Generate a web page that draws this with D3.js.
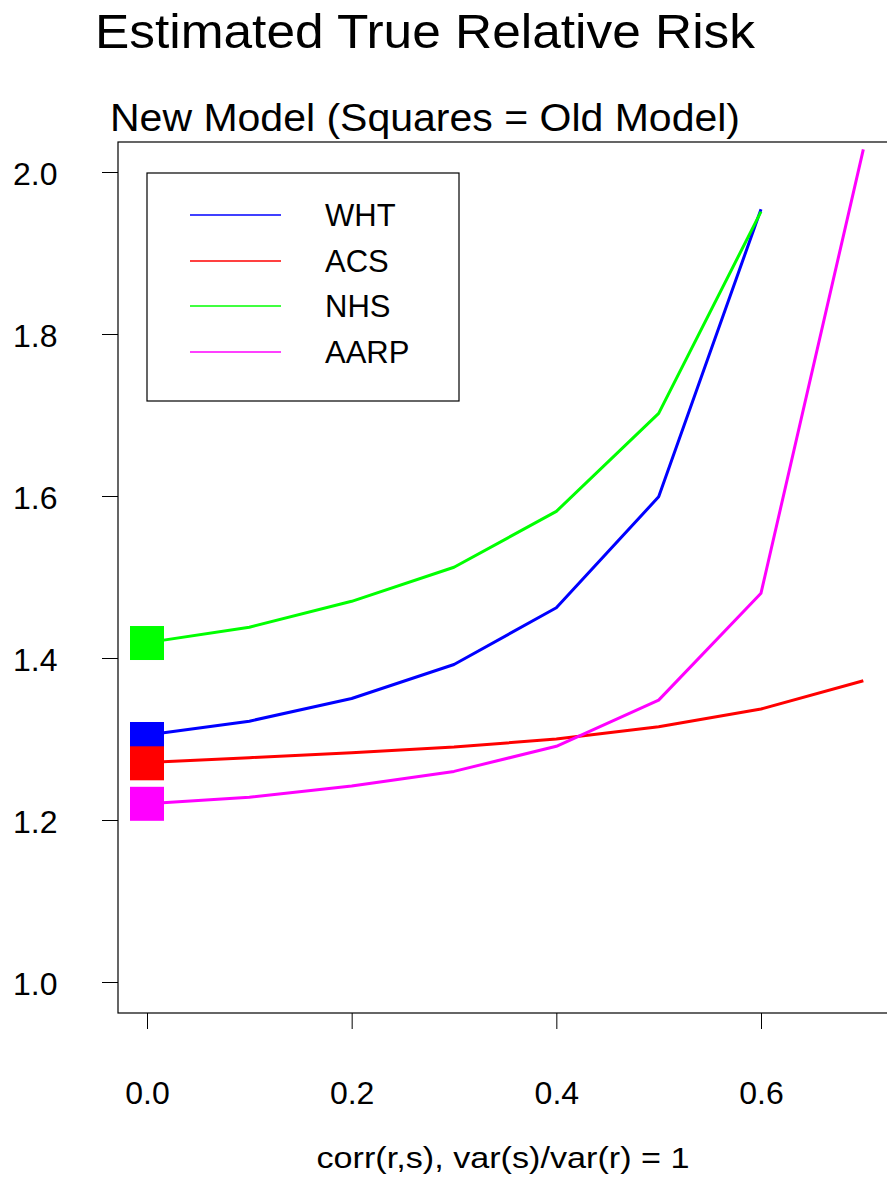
<!DOCTYPE html>
<html lang="en">
<head>
  <meta charset="utf-8" />
  <style>
    body { margin: 0; background: #fff; }
    text { font-family: "Liberation Sans", Arial, sans-serif; fill: #000; }
  </style>
</head>
<body>
<svg width="887" height="1177"></svg>
<script src="https://d3js.org/d3.v7.min.js"></script>
<script>
var corr = [0, 0.1, 0.2, 0.3, 0.4, 0.5, 0.6, 0.7];
var names = ["WHT", "ACS", "NHS", "AARP"];
var colors = ["#0000ff", "#ff0000", "#00ff00", "#ff00ff"];
var wht = [1.305, 1.322, 1.350, 1.392, 1.462, 1.599, 1.954];
var acs = [1.271, 1.277, 1.283, 1.290, 1.300, 1.315, 1.337, 1.372];
var nhs = [1.419, 1.438, 1.470, 1.512, 1.581, 1.702, 1.951];
var aarp = [1.220, 1.228, 1.242, 1.260, 1.291, 1.348, 1.480, 2.028];
var oldModel = [1.300, 1.270, 1.4185, 1.220];
var squareOrder = [2, 0, 1, 3];
var xTicks = [0, 0.2, 0.4, 0.6];
var yTicks = [1.0, 1.2, 1.4, 1.6, 1.8, 2.0];

var series = [wht, acs, nhs, aarp];

var svg = d3.select("svg");

var x = d3.scaleLinear().domain([0, 0.6]).range([147, 761]);
var y = d3.scaleLinear().domain([1.0, 2.0]).range([982, 172]);

// titles
svg.append("text")
  .attr("x", 95).attr("y", 48)
  .attr("font-size", 48)
  .attr("textLength", 660).attr("lengthAdjust", "spacingAndGlyphs")
  .text("Estimated True Relative Risk");

svg.append("text")
  .attr("x", 110).attr("y", 131)
  .attr("font-size", 38)
  .attr("textLength", 630).attr("lengthAdjust", "spacingAndGlyphs")
  .text("New Model (Squares = Old Model)");

// frame
svg.append("rect")
  .attr("x", 118).attr("y", 142)
  .attr("width", 800).attr("height", 1013 - 142)
  .attr("fill", "none").attr("stroke", "#000").attr("stroke-width", 1.2);

// axes
var yAxis = svg.append("g")
  .attr("transform", "translate(118,0)")
  .call(d3.axisLeft(y).tickValues(yTicks).tickSize(16).tickFormat(d3.format(".1f")));
yAxis.select(".domain").remove();
yAxis.selectAll("text")
  .attr("font-size", 32).attr("text-anchor", "start").attr("x", -105).attr("dy", "0.38em")
  .style("font-family", "'Liberation Sans', Arial, sans-serif");

var xAxis = svg.append("g")
  .attr("transform", "translate(0,1013)")
  .call(d3.axisBottom(x).tickValues(xTicks).tickSize(16).tickFormat(d3.format(".1f")));
xAxis.select(".domain").remove();
xAxis.selectAll("text")
  .attr("font-size", 32).attr("y", 91).attr("dy", 0)
  .style("font-family", "'Liberation Sans', Arial, sans-serif");

svg.append("text")
  .attr("x", 503).attr("y", 1168)
  .attr("text-anchor", "middle")
  .attr("font-size", 30)
  .attr("textLength", 373).attr("lengthAdjust", "spacingAndGlyphs")
  .text("corr(r,s), var(s)/var(r) = 1");

// lines
var line = d3.line()
  .x(function(d, i) { return x(corr[i]); })
  .y(function(d) { return y(d); });

svg.selectAll("path.series")
  .data(series)
  .enter()
  .append("path")
  .attr("class", "series")
  .attr("d", line)
  .attr("fill", "none")
  .attr("stroke", function(d, i) { return colors[i]; })
  .attr("stroke-width", 3)
  .attr("stroke-linejoin", "round");

// old model squares
svg.selectAll("rect.old")
  .data(squareOrder)
  .enter()
  .append("rect")
  .attr("class", "old")
  .attr("x", x(0) - 17)
  .attr("y", function(i) { return y(oldModel[i]) - 17; })
  .attr("width", 34).attr("height", 34)
  .attr("fill", function(i) { return colors[i]; });

// legend
var legend = svg.append("g");
legend.append("rect")
  .attr("x", 147).attr("y", 173).attr("width", 312).attr("height", 228)
  .attr("fill", "none").attr("stroke", "#000").attr("stroke-width", 1.2);

var items = legend.selectAll("g.item")
  .data(names)
  .enter()
  .append("g")
  .attr("transform", function(d, i) { return "translate(0," + Math.round(215 + i * 45.5) + ")"; });

items.append("line")
  .attr("x1", 190).attr("x2", 281)
  .attr("stroke", function(d, i) { return colors[i]; })
  .attr("stroke-opacity", 0.75)
  .attr("stroke-width", 2);

items.append("text")
  .attr("x", 325).attr("dy", "0.36em")
  .attr("font-size", 31)
  .text(function(d) { return d; });
</script>
</body>
</html>
